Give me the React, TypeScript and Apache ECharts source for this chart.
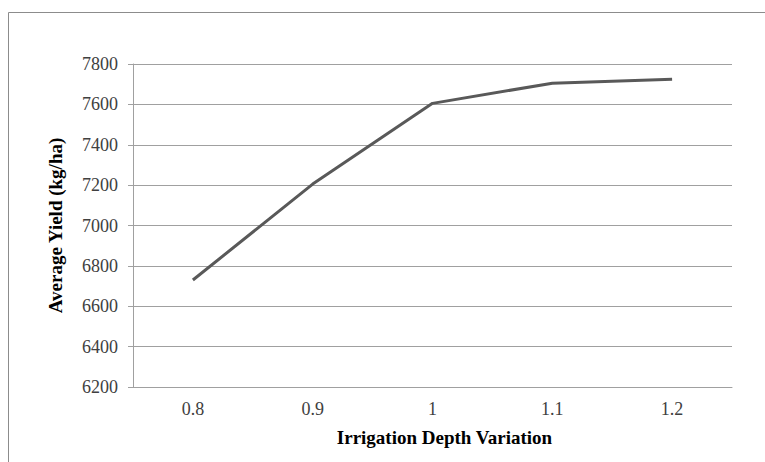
import React, { useEffect, useRef } from "react";
import * as echarts from "echarts";

const categories = ["0.8", "0.9", "1", "1.1", "1.2"];
const yieldValues = [6730, 7205, 7605, 7705, 7725];
const yMin = 6200;
const yMax = 7800;
const yInterval = 200;

export default function App() {
  const ref = useRef<HTMLDivElement>(null);
  useEffect(() => {
    if (!ref.current) return;
    const chart = echarts.init(ref.current, null, { renderer: "svg" });
    const serif = "'Liberation Serif', 'Times New Roman', serif";
    chart.setOption({
      animation: false,
      backgroundColor: "#ffffff",
      graphic: [
        {
          type: "rect",
          shape: { x: 8.5, y: 12.5, width: 800, height: 500 },
          style: { fill: "none", stroke: "#8c8c8c", lineWidth: 1 },
          z: -1,
        },
      ],
      grid: { left: 133, right: 33, top: 64, bottom: 75 },
      xAxis: {
        type: "category",
        data: categories,
        boundaryGap: true,
        name: "Irrigation Depth Variation",
        nameLocation: "middle",
        nameGap: 41,
        nameTextStyle: {
          fontFamily: serif,
          fontWeight: "bold",
          fontSize: 19,
          color: "#000000",
          padding: [0, 0, 0, 24],
        },
        axisLine: { show: true, lineStyle: { color: "#a0a0a0", width: 1 } },
        axisTick: { show: false },
        axisLabel: {
          fontFamily: serif,
          fontSize: 18,
          color: "#404040",
          margin: 13,
        },
        splitLine: { show: false },
      },
      yAxis: {
        type: "value",
        min: yMin,
        max: yMax,
        interval: yInterval,
        name: "Average Yield (kg/ha)",
        nameLocation: "middle",
        nameGap: 68,
        nameTextStyle: {
          fontFamily: serif,
          fontWeight: "bold",
          fontSize: 19,
          color: "#000000",
        },
        axisLine: { show: true, lineStyle: { color: "#a0a0a0", width: 1 } },
        axisTick: { show: true, length: 5, lineStyle: { color: "#a0a0a0" } },
        axisLabel: {
          fontFamily: serif,
          fontSize: 18,
          color: "#404040",
          margin: 15,
          formatter: (v: number) => String(v),
        },
        splitLine: { show: true, lineStyle: { color: "#a0a0a0", width: 1 } },
      },
      series: [
        {
          type: "line",
          data: yieldValues,
          symbol: "none",
          smooth: false,
          lineStyle: { color: "#595959", width: 3 },
        },
      ],
    });
    return () => chart.dispose();
  }, []);
  return (
    <div
      ref={ref}
      style={{ position: "absolute", left: 0, top: 0, width: 765, height: 462 }}
    />
  );
}
